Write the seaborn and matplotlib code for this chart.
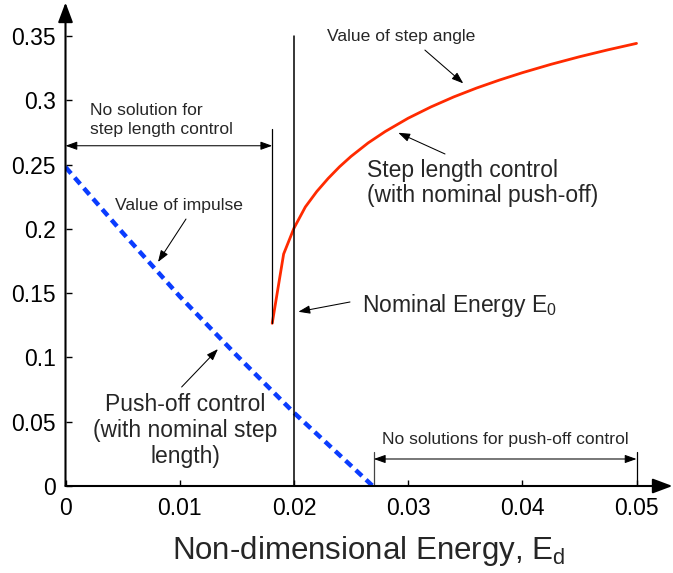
import matplotlib
matplotlib.use("Agg")
import matplotlib.pyplot as plt
import seaborn as sns
import pandas as pd

# ---- data ----
impulse_x = [0.0, 0.005, 0.010, 0.015, 0.020, 0.025, 0.0269]
impulse_y = [0.248, 0.197, 0.1475, 0.1015, 0.057, 0.0158, 0.0]

angle_x = [0.0181, 0.0191, 0.0200, 0.0210, 0.0220, 0.0230, 0.0240, 0.0250,
           0.0265, 0.0280, 0.0300, 0.0320, 0.0340, 0.0360, 0.0380, 0.0400,
           0.0425, 0.0450, 0.0475, 0.0500]
angle_y = [0.1265, 0.1804, 0.2004, 0.2170, 0.2290, 0.2392, 0.2483, 0.2563,
           0.2668, 0.2757, 0.2860, 0.2948, 0.3026, 0.3095, 0.3157, 0.3214,
           0.3279, 0.3338, 0.3392, 0.3442]

nominal_energy = 0.020
step_limit = 0.0181
pushoff_limit = 0.027
x_end = 0.050

x_ticks = [0, 0.01, 0.02, 0.03, 0.04, 0.05]
x_ticklabels = ["0", "0.01", "0.02", "0.03", "0.04", "0.05"]
y_ticks = [0, 0.05, 0.1, 0.15, 0.2, 0.25, 0.3, 0.35]
y_ticklabels = ["0", "0.05", "0.1", "0.15", "0.2", "0.25", "0.3", "0.35"]

sns.set_style("ticks")
plt.rcParams['font.family'] = ['Liberation Sans', 'DejaVu Sans']
plt.rcParams['mathtext.fontset'] = 'custom'
plt.rcParams['mathtext.rm'] = 'Liberation Sans'

fig = plt.figure(figsize=(6.73, 5.73), dpi=100)
ax = fig.add_axes([65.5 / 673, (573 - 486) / 573, 607 / 673, 483.5 / 573])

df_imp = pd.DataFrame({"x": impulse_x, "y": impulse_y})
df_ang = pd.DataFrame({"x": angle_x, "y": angle_y})

sns.lineplot(data=df_imp, x="x", y="y", ax=ax, color="#0a3cff", linewidth=3.2,
             linestyle=(0, (1.9, 1.25)), sort=False, estimator=None)
sns.lineplot(data=df_ang, x="x", y="y", ax=ax, color="#ff2a00", linewidth=2.0,
             sort=False, estimator=None)

ax.set_xlim(0, 0.05315)
ax.set_ylim(0, 0.376)

# reference lines
ax.plot([nominal_energy, nominal_energy], [0, 0.35], color="black", lw=1.1)
ax.plot([step_limit, step_limit], [angle_y[0], 0.2776], color="black", lw=0.9)
ax.plot([pushoff_limit, pushoff_limit], [0, 0.0267], color="#444444", lw=0.9)
ax.plot([x_end, x_end], [0, 0.0267], color="black", lw=0.9)

# axes with arrows
for s in ax.spines.values():
    s.set_visible(False)
axprops = dict(arrowstyle="-|>,head_length=0.8,head_width=0.3", color="black",
               lw=1.5, shrinkA=0, shrinkB=0, mutation_scale=15)
ax.annotate("", xy=(1.0, 0), xytext=(0, 0), xycoords="axes fraction",
            arrowprops=axprops, annotation_clip=False)
ax.annotate("", xy=(0, 1.0), xytext=(0, 0), xycoords="axes fraction",
            arrowprops=axprops, annotation_clip=False)

ax.set_xticks(x_ticks)
ax.set_xticklabels(x_ticklabels)
ax.set_yticks(y_ticks)
ax.set_yticklabels(y_ticklabels)
ax.tick_params(axis="both", direction="in", length=4.5, width=1, labelsize=16.5,
               colors="black")
ax.tick_params(axis="x", pad=8)
ax.tick_params(axis="y", pad=7)
ax.set_ylabel("")
ax.set_xlabel(r"Non-dimensional Energy, E$_\mathregular{d}$", fontsize=22.5, labelpad=10)

small = 12.6
big = 16.5
arr = dict(arrowstyle="-|>,head_length=0.7,head_width=0.25", color="black",
           lw=0.75, shrinkA=0, shrinkB=0, mutation_scale=10)
darr = dict(arrowstyle="<|-|>,head_length=0.7,head_width=0.25", color="black",
            lw=0.75, shrinkA=0, shrinkB=0, mutation_scale=10)

# No solution for step length control
ax.text(0.00215, 0.2846, "No solution for\nstep length control", fontsize=small,
        ha="left", va="center", linespacing=1.35)
ax.annotate("", xy=(0.0, 0.2646), xytext=(step_limit, 0.2646), arrowprops=darr)

# Value of impulse
ax.text(0.00433, 0.2185, "Value of impulse", fontsize=small, ha="left", va="center")
ax.annotate("", xy=(0.0081, 0.1742), xytext=(0.01055, 0.2076), arrowprops=arr)

# Push-off control
ax.text(0.01046, 0.0432, "Push-off control\n(with nominal step\nlength)", fontsize=big,
        ha="center", va="center", linespacing=1.15)
ax.annotate("", xy=(0.01335, 0.1065), xytext=(0.01017, 0.077), arrowprops=arr)

# Nominal energy
ax.text(0.02594, 0.1407, r"Nominal Energy E$_\mathregular{0}$", fontsize=big,
        ha="left", va="center")
ax.annotate("", xy=(0.02039, 0.1355), xytext=(0.02491, 0.1431), arrowprops=arr)

# Step length control
ax.text(0.02637, 0.2354, "Step length control\n(with nominal push-off)", fontsize=big,
        ha="left", va="center", linespacing=1.12)
ax.annotate("", xy=(0.02914, 0.2747), xytext=(0.03323, 0.2582), arrowprops=arr)

# Value of step angle
ax.text(0.02287, 0.3494, "Value of step angle", fontsize=small, ha="left", va="center")
ax.annotate("", xy=(0.03483, 0.3131), xytext=(0.03147, 0.339), arrowprops=arr)

# No solutions for push-off control
ax.text(0.02769, 0.0358, "No solutions for push-off control", fontsize=small,
        ha="left", va="center")
ax.annotate("", xy=(pushoff_limit, 0.021), xytext=(x_end, 0.021), arrowprops=darr)

fig.savefig("out.png", dpi=100)
